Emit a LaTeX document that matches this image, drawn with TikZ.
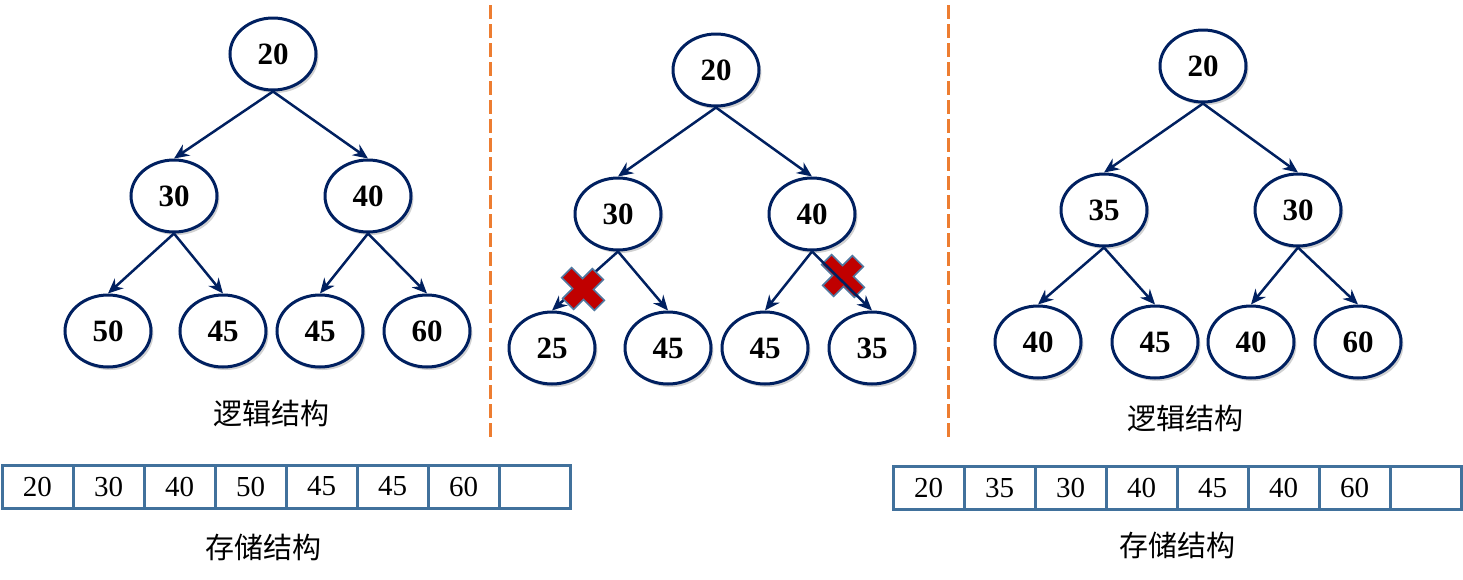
\documentclass[tikz,border=0pt]{standalone}
\usepackage{fontspec}
\setmainfont{Liberation Serif}
\newfontfamily\cjk{Noto Sans CJK SC}
\usetikzlibrary{arrows.meta,shapes.geometric,shadows}
\definecolor{navy}{RGB}{0,32,96}
\definecolor{cellblue}{RGB}{65,113,156}
\definecolor{dashorange}{RGB}{237,125,49}
\definecolor{crossred}{RGB}{192,0,0}
\definecolor{crossedge}{RGB}{80,120,160}
\begin{document}
\begin{tikzpicture}[x=0.5pt,y=-0.5pt,
    key/.style={ellipse,draw=navy,line width=1.5pt,fill=white,minimum width=43pt,minimum height=36pt,
      inner sep=0pt,font=\fontsize{15.5}{17}\selectfont\bfseries,
      drop shadow={shadow xshift=1.2pt,shadow yshift=-1.5pt,opacity=0.18,fill=black}},
    link/.style={-{Stealth[length=7.5pt,width=6.5pt]},draw=navy,line width=1.25pt},
    cell/.style={rectangle,draw=cellblue,line width=1.5pt,minimum width=35.5pt,minimum height=21.5pt,
      inner sep=0pt,outer sep=0pt,font=\fontsize{14.5}{16}\selectfont},
    caption/.style={font=\cjk\fontsize{14.5}{16}\selectfont},
    divider/.style={draw=dashorange,line width=1.5pt,dash pattern=on 7pt off 2.5pt}]
\useasboundingbox (0,0) rectangle (1463,579);

% logical structure, before
\node[key] (a1) at (273,54) {20};
\node[key] (a2) at (174,196) {30};
\node[key] (a3) at (368,196) {40};
\node[key] (a4) at (108,331) {50};
\node[key] (a5) at (223,331) {45};
\node[key] (a6) at (320,331) {45};
\node[key] (a7) at (427,331) {60};
\draw[link] (a1.south) -- (a2.north);
\draw[link] (a1.south) -- (a3.north);
\draw[link] (a2.south) -- (a4.north);
\draw[link] (a2.south) -- (a5.north);
\draw[link] (a3.south) -- (a6.north);
\draw[link] (a3.south) -- (a7.north);
\node[caption] (alabel) at (271,413) {逻辑结构};

% insert 25 and 35, heap property broken
\node[key] (b1) at (716,70) {20};
\node[key] (b2) at (618,214) {30};
\node[key] (b3) at (812,214) {40};
\node[key] (b4) at (552,348) {25};
\node[key] (b5) at (668,348) {45};
\node[key] (b6) at (765,348) {45};
\node[key] (b7) at (872,348) {35};
\draw[crossedge,line width=0.8pt,fill=crossred,shift={(843,276)},rotate=45,yscale=1.1]
  (7,21) -- (7,7) -- (21,7) -- (21,-7) -- (7,-7) -- (7,-21) -- (-7,-21) -- (-7,-7)
  -- (-21,-7) -- (-21,7) -- (-7,7) -- (-7,21) -- cycle;
\draw[link] (b1.south) -- (b2.north);
\draw[link] (b1.south) -- (b3.north);
\draw[link] (b2.south) -- (b4.north);
\draw[link] (b2.south) -- (b5.north);
\draw[link] (b3.south) -- (b6.north);
\draw[link] (b3.south) -- (b7.north);
\draw[crossedge,line width=0.8pt,fill=crossred,shift={(583,289)},rotate=45,yscale=1.1]
  (7,21) -- (7,7) -- (21,7) -- (21,-7) -- (7,-7) -- (7,-21) -- (-7,-21) -- (-7,-7)
  -- (-21,-7) -- (-21,7) -- (-7,7) -- (-7,21) -- cycle;

% logical structure, after
\node[key] (c1) at (1203,66) {20};
\node[key] (c2) at (1104,210) {35};
\node[key] (c3) at (1298,210) {30};
\node[key] (c4) at (1038,342) {40};
\node[key] (c5) at (1155,342) {45};
\node[key] (c6) at (1251,342) {40};
\node[key] (c7) at (1358,342) {60};
\draw[link] (c1.south) -- (c2.north);
\draw[link] (c1.south) -- (c3.north);
\draw[link] (c2.south) -- (c4.north);
\draw[link] (c2.south) -- (c5.north);
\draw[link] (c3.south) -- (c6.north);
\draw[link] (c3.south) -- (c7.north);
\node[caption] (clabel) at (1185,418) {逻辑结构};

% dividers
\coordinate (d1top) at (490,5);
\coordinate (d1bot) at (490,440);
\coordinate (d2top) at (948,5);
\coordinate (d2bot) at (948,440);
\draw[divider] (d1top) -- (d1bot);
\draw[divider] (d2top) -- (d2bot);

% storage structure
\foreach \v [count=\i] in {20,30,40,50,45,45,60}
  \node[cell] (s\i) at (2+71*\i-35.5,486.5) {\v};
\node[cell] (s8) at (2+71*8-35.5,486.5) {};
\node[caption] (slabel) at (263,547) {存储结构};

\foreach \v [count=\i] in {20,35,30,40,45,40,60}
  \node[cell] (t\i) at (893+71*\i-35.5,488) {\v};
\node[cell] (t8) at (893+71*8-35.5,488) {};
\node[caption] (tlabel) at (1177,545) {存储结构};
\end{tikzpicture}
\end{document}
